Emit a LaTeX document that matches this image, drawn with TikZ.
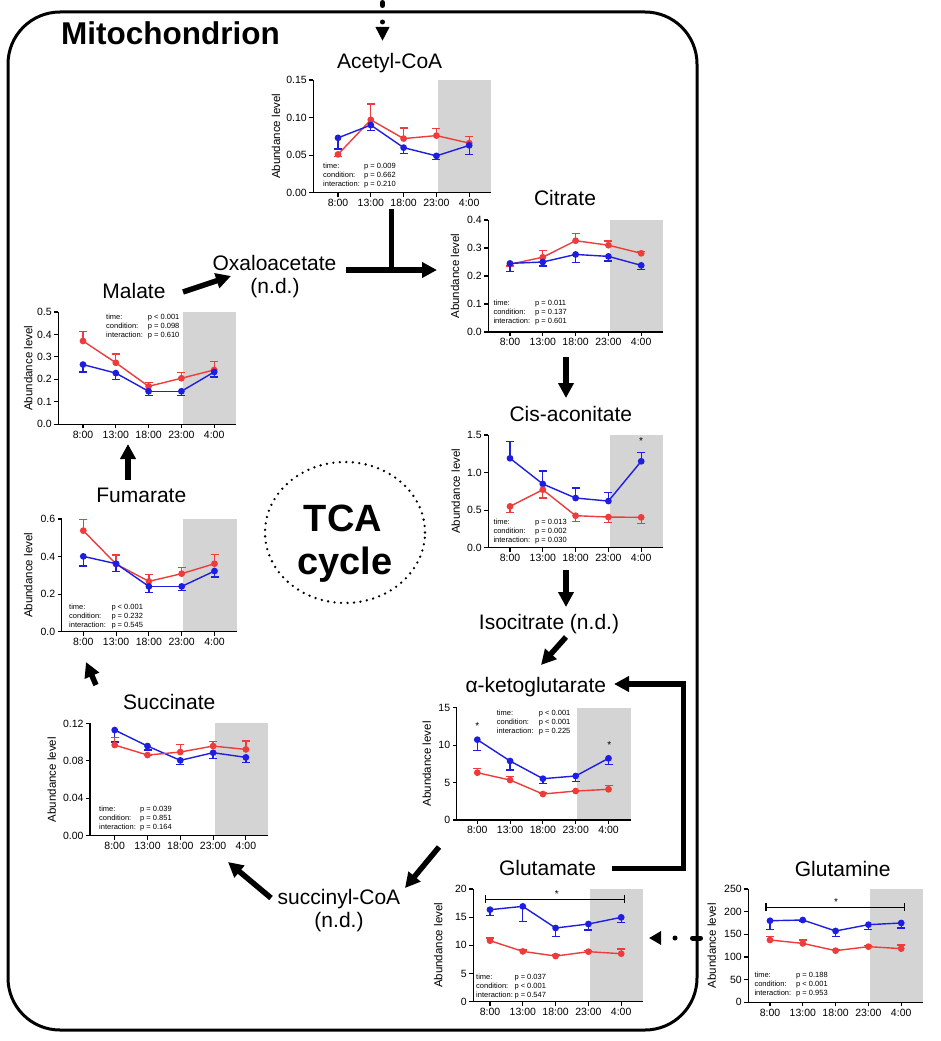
\documentclass[tikz,border=0pt]{standalone}
\usepackage{fontspec}
\setmainfont{Liberation Sans}
\usetikzlibrary{arrows.meta,shapes.geometric}
\definecolor{cred}{RGB}{238,60,60}
\definecolor{cblue}{RGB}{30,30,225}
\definecolor{cgray}{RGB}{212,212,212}
\newcommand\chartset[6]{\def\CN{#1}\def\CX{#2}\def\CY{#3}\def\CH{#4}\def\CM{#5}\def\CF{#6}}
\newcommand\chartframe[2]{%
  \fill[cgray] ({\CX+\CF+3*32.8+1.5},{\CY-\CH}) rectangle ({\CX+\CF+4*32.8+22},\CY);
  \draw[axisline] (\CX,{\CY-\CH}) -- (\CX,\CY) -- ({\CX+\CF+4*32.8+22},\CY);
  \foreach \tickV/\tickL [count=\tickI] in {#1} {\draw[axisline] (\CX,{\CY-\tickV*(\CH/\CM)}) -- ++(-4,0) node[ticklab,anchor=east] (\CN-y\tickI) {\tickL};}
  \foreach \tickL [count=\tickI] in {8:00,13:00,18:00,23:00,4:00} {\draw[axisline] ({\CX+\CF+(\tickI-1)*32.8},\CY) -- ++(0,4) node[ticklab,anchor=north] (\CN-x\tickI) {\tickL};}
  \node[ylab] (\CN-yl) at (#2,{\CY-\CH/2}) {Abundance level};
}
\newcommand\series[2]{%
  \foreach \sV/\sE [count=\sI from 0, remember=\sV as \sP (initially 0)] in {#2}{%
    \ifnum\sI>0 \draw[#1,dataline] ({\CX+\CF+(\sI-1)*32.8},{\CY-\sP*(\CH/\CM)}) -- ({\CX+\CF+\sI*32.8},{\CY-\sV*(\CH/\CM)});\fi}
  \foreach \sV/\sE [count=\sI from 0] in {#2}{%
    \draw[#1,errline] ({\CX+\CF+\sI*32.8},{\CY-\sV*(\CH/\CM)}) -- ({\CX+\CF+\sI*32.8},{\CY-\sE*(\CH/\CM)}) ++(-4,0) -- ++(8,0);
    \fill[#1] ({\CX+\CF+\sI*32.8},{\CY-\sV*(\CH/\CM)}) circle[radius=3.4pt];}
}
\newcommand\statbox[6]{%
  \node[stat] (\CN-s1) at (#1,{#2+2.7}) {time:};
  \node[stat] (\CN-p1) at ({#1+#3},{#2+2.7}) {#4};
  \node[stat] (\CN-s2) at (#1,{#2+11.7}) {condition:};
  \node[stat] (\CN-p2) at ({#1+#3},{#2+11.7}) {#5};
  \node[stat] (\CN-s3) at (#1,{#2+20.7}) {interaction:};
  \node[stat] (\CN-p3) at ({#1+#3},{#2+20.7}) {#6};
}
\begin{document}
\begin{tikzpicture}[x=1pt,y=-1pt,
  axisline/.style={line width=1.1pt, black},
  dataline/.style={line width=1.4pt, line cap=round},
  errline/.style={line width=1.3pt},
  ticklab/.style={font=\fontsize{10.5}{10.5}\selectfont, inner sep=2pt},
  ylab/.style={font=\fontsize{11.5}{11.5}\selectfont, rotate=90, inner sep=0pt},
  title/.style={font=\fontsize{21}{21}\selectfont, inner sep=0pt, anchor=base},
  stat/.style={font=\fontsize{7.5}{7.5}\selectfont, inner sep=0pt, anchor=base west},
  starlab/.style={font=\fontsize{10}{10}\selectfont, inner sep=0pt, anchor=base},
  flow/.style={line width=5.5pt, -{Triangle[length=15pt,width=15pt]}},
  dotflow/.style={line width=5pt, line cap=round},
]
\fill[white] (0,0) rectangle (940,1041);
\useasboundingbox (0,0) rectangle (940,1041);

% membrane
\draw[line width=3pt, rounded corners=52pt] (8,12) rectangle (697,1030);
\node[font=\fontsize{31.5}{31.5}\selectfont\bfseries, inner sep=0pt, anchor=base west] (mito) at (61,45) {Mitochondrion};

% TCA cycle
\node[draw, ellipse, line width=2.6pt, line cap=round, dash pattern=on 0pt off 6.5pt, minimum width=160pt, minimum height=141pt, inner sep=0pt] (tcaE) at (345,532.5) {};
\node[font=\fontsize{38}{38}\selectfont\bfseries, anchor=base, inner sep=0pt] (tca1) at (343,531) {TCA};
\node[font=\fontsize{38}{38}\selectfont\bfseries, anchor=base, inner sep=0pt] (tca2) at (345,574) {cycle};

% ---------- charts ----------
\chartset{acet}{313.3}{192.7}{112.7}{0.15}{24.7}
\chartframe{0/0.00,0.05/0.05,0.1/0.10,0.15/0.15}{276}
\series{cred}{0.051/0.048,0.097/0.118,0.072/0.086,0.076/0.085,0.066/0.075}
\series{cblue}{0.073/0.058,0.090/0.083,0.060/0.052,0.049/0.044,0.063/0.051}
\statbox{323}{165.7}{41}{p = 0.009}{p = 0.662}{p = 0.210}

\chartset{cit}{488.3}{332}{112}{0.4}{21.7}
\chartframe{0/0.0,0.1/0.1,0.2/0.2,0.3/0.3,0.4/0.4}{455}
\series{cred}{0.242/0.236,0.267/0.292,0.326/0.351,0.310/0.325,0.281/0.287}
\series{cblue}{0.245/0.215,0.250/0.236,0.277/0.249,0.270/0.254,0.238/0.223}
\statbox{493.3}{303}{41.7}{p = 0.011}{p = 0.137}{p = 0.601}

\chartset{mal}{58.3}{424.3}{112.3}{0.5}{24.7}
\chartframe{0/0.0,0.1/0.1,0.2/0.2,0.3/0.3,0.4/0.4,0.5/0.5}{28.3}
\series{cred}{0.371/0.412,0.274/0.313,0.169/0.187,0.205/0.231,0.242/0.280}
\series{cblue}{0.266/0.233,0.228/0.199,0.147/0.129,0.147/0.128,0.233/0.211}
\statbox{106}{317}{41.7}{p < 0.001}{p = 0.098}{p = 0.610}

\chartset{cis}{488.3}{547.7}{112.7}{1.5}{21.7}
\chartframe{0/0.0,0.5/0.5,1/1.0,1.5/1.5}{455.7}
\series{cblue}{1.19/1.416,0.848/1.021,0.661/0.795,0.621/0.732,1.15/1.27}
\series{cred}{0.55/0.47,0.772/0.661,0.426/0.346,0.408/0.337,0.404/0.324}
\statbox{493.3}{521.7}{41.7}{p = 0.013}{p = 0.002}{p = 0.030}
\node[starlab] (cisStar) at (641,444.7) {*};

\chartset{fum}{61.7}{631.7}{112.7}{0.6}{21.6}
\chartframe{0/0.0,0.2/0.2,0.4/0.4,0.6/0.6}{28.3}
\series{cred}{0.538/0.598,0.360/0.408,0.268/0.304,0.309/0.343,0.362/0.410}
\series{cblue}{0.401/0.350,0.362/0.320,0.241/0.209,0.241/0.218,0.323/0.291}
\statbox{69}{606.7}{42.3}{p < 0.001}{p = 0.232}{p = 0.545}

\chartset{suc}{90}{835.7}{112.3}{0.12}{24.7}
\chartframe{0/0.00,0.04/0.04,0.08/0.08,0.12/0.12}{51.7}
\series{cblue}{0.1129/0.100,0.0958/0.0915,0.0805/0.0759,0.0887/0.0823,0.0837/0.078}
\series{cred}{0.0969/0.1047,0.0862/0.0862,0.0894/0.0972,0.0958/0.1004,0.0922/0.1011}
\statbox{99}{808.3}{41}{p = 0.039}{p = 0.851}{p = 0.164}

\chartset{akg}{456.7}{820}{112.3}{15}{20.6}
\chartframe{0/0,5/5,10/10,15/15}{426.7}
\series{cblue}{10.73/9.26,7.88/6.68,5.52/4.9,5.88/5.16,8.24/7.39}
\series{cred}{6.32/6.86,5.34/5.83,3.47/3.6,3.87/3.95,4.10/4.59}
\statbox{496.7}{712.3}{42}{p < 0.001}{p < 0.001}{p = 0.225}
\node[starlab] (akgStar1) at (477.3,729) {*};
\node[starlab] (akgStar2) at (609.3,748.4) {*};

\chartset{glu}{473.3}{1001.7}{112.7}{20}{16.7}
\chartframe{0/0,5/5,10/10,15/15,20/20}{438.3}
\series{cblue}{16.33/15.33,16.92/14.26,13.08/11.6,13.79/12.72,14.97/14.02}
\series{cred}{10.83/11.3,8.93/9.2,8.1/8.3,8.88/9.1,8.52/9.35}
\statbox{476}{976.7}{38.3}{p = 0.037}{p < 0.001}{p = 0.547}
\coordinate (gluBa) at (485.7,899.3); \coordinate (gluBb) at (624.7,899.3);
\draw[axisline] (gluBa) ++(0,-4) -- ++(0,8) (gluBa) -- (gluBb) ++(0,-4) -- ++(0,8);
\node[starlab] (gluStar) at (556.7,897.4) {*};

\chartset{gln}{748.3}{1002.3}{113.3}{250}{21.7}
\chartframe{0/0,50/50,100/100,150/150,200/200,250/250}{711.7}
\series{cblue}{180/161,181.6/178,157.4/144.9,171.3/161,175/164}
\series{cred}{137.5/144.9,130/137.5,114/116,122.8/125,118.4/126.5}
\statbox{754.3}{975}{41.7}{p = 0.188}{p < 0.001}{p = 0.953}
\coordinate (glnBa) at (766,907.3); \coordinate (glnBb) at (904.7,907.3);
\draw[axisline] (glnBa) ++(0,-4) -- ++(0,8) (glnBa) -- (glnBb) ++(0,-4) -- ++(0,8);
\node[starlab] (glnStar) at (836,905.7) {*};

% ---------- labels ----------
\node[title] (tAcet) at (389.7,68.3) {Acetyl-CoA};
\node[title] (tCit) at (565,205.7) {Citrate};
\node[title] (tMal) at (134,298.3) {Malate};
\node[title] (tCis) at (570.8,421.7) {Cis-aconitate};
\node[title] (tFum) at (141.3,502.7) {Fumarate};
\node[title] (tSuc) at (169.2,709) {Succinate};
\node[title] (tAkg) at (535.8,692.3) {α-ketoglutarate};
\node[title] (tGlu) at (547.5,875) {Glutamate};
\node[title] (tGln) at (842.7,876) {Glutamine};
\node[title] (tOxa) at (274.5,270) {Oxaloacetate};
\node[title] (tOxa2) at (275,293) {(n.d.)};
\node[title] (tIso) at (549,629) {Isocitrate (n.d.)};
\node[title] (tSca) at (339,904.5) {succinyl-CoA};
\node[title] (tSca2) at (339,927.5) {(n.d.)};

% ---------- connectors ----------
\coordinate (acT1) at (391.7,209); \coordinate (acT2) at (391.7,270);
\draw[line width=5.5pt] (acT1) -- (acT2);
\coordinate (oxaR) at (346,270); \coordinate (citL) at (437,270);
\draw[flow] (oxaR) -- (citL);
\coordinate (malR) at (183,292); \coordinate (oxaL) at (231,276);
\draw[flow] (malR) -- (oxaL);
\coordinate (citB) at (566,357); \coordinate (cisT) at (566,398);
\draw[flow] (citB) -- (cisT);
\coordinate (cisB) at (566,570); \coordinate (isoT) at (566,607);
\draw[flow] (cisB) -- (isoT);
\coordinate (isoB) at (566,637); \coordinate (akgT) at (541,665);
\draw[flow] (isoB) -- (akgT);
\coordinate (gluR) at (612,868.3); \coordinate (akgR) at (614,684);
\draw[flow, line join=miter] (gluR) -- ++(71.3,0) |- (akgR);
\coordinate (akgB) at (439,847); \coordinate (scaT) at (405,888);
\draw[flow] (akgB) -- (scaT);
\coordinate (scaL) at (271,898); \coordinate (sucR) at (228,862);
\draw[flow] (scaL) -- (sucR);
\coordinate (sucT) at (96,685); \coordinate (fumB) at (86,662);
\draw[flow] (sucT) -- (fumB);
\coordinate (fumT) at (128,480); \coordinate (malB) at (128,444);
\draw[flow] (fumT) -- (malB);

% dotted imports
\coordinate (cytTop) at (382.5,2.5); \coordinate (acIn) at (382.5,41);
\draw[dotflow, dash pattern=on 3pt off 16.5pt on 0pt off 40pt, -{Triangle[length=14pt,width=13pt]}] (cytTop) -- (acIn);
\coordinate (glnSrc) at (700.5,938); \coordinate (gluIn) at (649,938);
\draw[dotflow, dash pattern=on 8pt off 17.5pt on 0pt off 40pt, -{Triangle[length=12pt,width=13pt]}] (glnSrc) -- (gluIn);
\end{tikzpicture}
\end{document}
